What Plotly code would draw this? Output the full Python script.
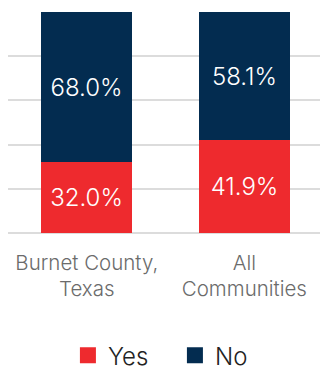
import plotly.graph_objects as go

categories = ["Burnet County,<br>Texas", "All<br>Communities"]
yes_values = [32.0, 41.9]
no_values = [68.0, 58.1]

RED = "#ee2a2e"
NAVY = "#032c50"
FONT = "Inter"

x = [0, 1]
fig = go.Figure()
for name, vals, color in [("Yes", yes_values, RED), ("No", no_values, NAVY)]:
    fig.add_trace(go.Bar(
        x=x, y=vals, name=name, marker=dict(color=color, line=dict(width=0)),
        width=0.58, text=[f"{v:.1f}%" for v in vals], textposition="inside",
        insidetextanchor="middle", textangle=0,
        textfont=dict(color="white", size=24, family=FONT, weight=300),
        showlegend=False, hoverinfo="skip",
    ))
    # legend swatch
    fig.add_trace(go.Scatter(
        x=[None], y=[None], mode="markers", name=name,
        marker=dict(symbol="square", size=16, color=color),
    ))

fig.update_layout(
    barmode="stack",
    width=320, height=375,
    margin=dict(l=8, r=0, t=12, b=142, autoexpand=False),
    paper_bgcolor="white", plot_bgcolor="white",
    bargap=0,
    xaxis=dict(tickmode="array", tickvals=x, ticktext=categories,
               range=[-0.5, 1.48], showgrid=False, zeroline=False,
               tickfont=dict(size=20.5, color="#6b6b6b", family=FONT, weight=300),
               ticks="", ticklabelstandoff=15),
    yaxis=dict(range=[0, 100], dtick=20, showgrid=True, gridcolor="#dcdcdc",
               gridwidth=1.5, showticklabels=False, zeroline=True,
               zerolinecolor="#dcdcdc", zerolinewidth=1.5),
    legend=dict(orientation="h", x=0.535, xanchor="center", y=-0.555, yanchor="middle",
                traceorder="normal",
                font=dict(size=24, color="#222222", family=FONT, weight=300),
                itemwidth=30, tracegroupgap=0, entrywidth=62, entrywidthmode="pixels"),
    font=dict(family=FONT),
)
fig.write_html("out.html")
